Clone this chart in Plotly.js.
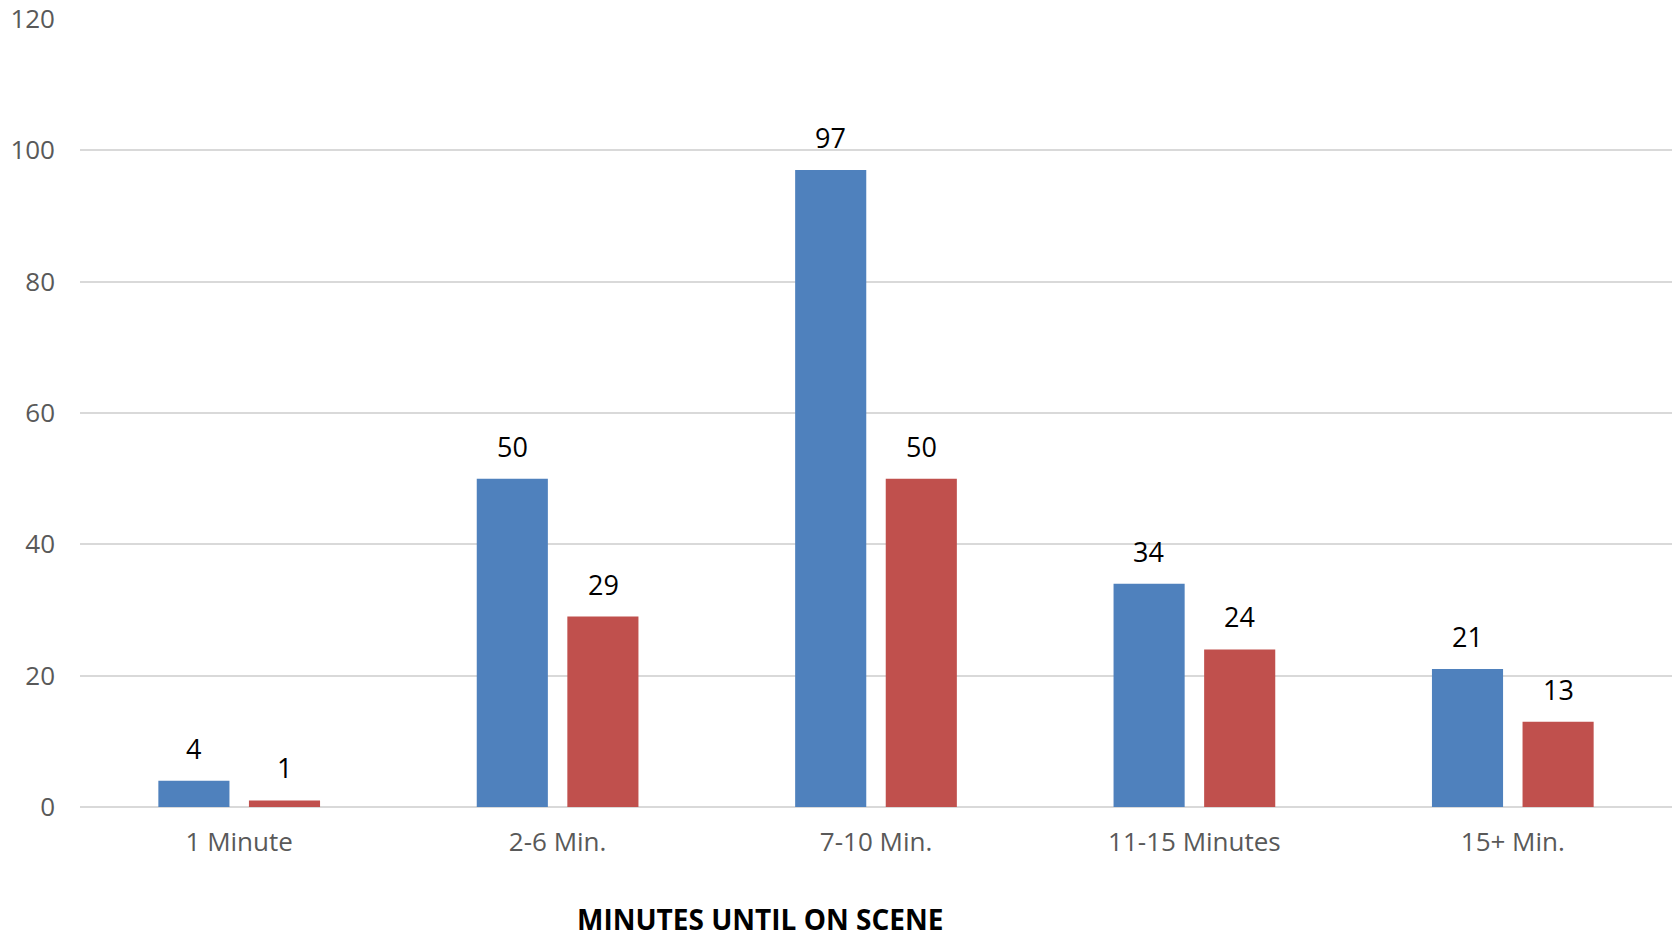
<!DOCTYPE html>
<html>
<head>
<meta charset="utf-8">
<script src="https://cdn.plot.ly/plotly-3.0.1.min.js"></script>
<style>html,body{margin:0;padding:0;background:#fff;}#chart{width:1672px;height:938px;}</style>
</head>
<body>
<div id="chart"></div>
<script>
const categories = ["1 Minute", "2-6 Min.", "7-10 Min.", "11-15 Minutes", "15+ Min."];
const seriesA = [4, 50, 97, 34, 21];
const seriesB = [1, 29, 50, 24, 13];
const yTicks = [0, 20, 40, 60, 80, 100, 120];
const xTitle = "MINUTES UNTIL ON SCENE";

const FONT = "Open Sans, Lato, sans-serif";
const colors = ["#4F81BD", "#C0504D"];
const series = [seriesA, seriesB];

const traces = series.map((vals, i) => ({
  type: "bar",
  x: categories,
  y: vals,
  marker: {color: colors[i]},
  hoverinfo: "x+y"
}));

const annotations = [];
series.forEach((vals, s) => {
  vals.forEach((v, j) => {
    annotations.push({
      x: categories[j], y: v, xref: "x", yref: "y",
      text: String(v), showarrow: false,
      xanchor: "center", yanchor: "bottom",
      xshift: s === 0 ? -45.5 : 45.5, yshift: 12,
      font: {family: FONT, size: 27, color: "#000000"}
    });
  });
});

const L = 80, R = 0, T = 19, B = 131, W = 1672, H = 938;
annotations.push({
  x: (760 - L) / (W - L - R), y: (H - B - 919) / (H - T - B),
  xref: "paper", yref: "paper",
  text: "<b>" + xTitle + "</b>", showarrow: false,
  xanchor: "center", yanchor: "middle",
  font: {family: FONT, size: 28, color: "#000000"}
});

const layout = {
  width: W, height: H,
  margin: {l: L, r: R, t: T, b: B, pad: 0},
  paper_bgcolor: "#ffffff", plot_bgcolor: "#ffffff",
  showlegend: false,
  barmode: "group",
  bargap: 0.431,
  bargroupgap: 0.215,
  font: {family: FONT, size: 26, color: "#595959"},
  xaxis: {
    type: "category",
    showgrid: false, zeroline: false, showline: false,
    ticks: "", tickfont: {family: FONT, size: 26, color: "#595959"},
    ticklabelstandoff: 17
  },
  yaxis: {
    range: [0, 120],
    tickvals: yTicks,
    ticktext: yTicks.map(String),
    showgrid: true, gridcolor: "#D9D9D9", gridwidth: 2,
    zeroline: true, zerolinecolor: "#D9D9D9", zerolinewidth: 2,
    showline: false, ticks: "",
    tickfont: {family: FONT, size: 26, color: "#595959"},
    ticklabelstandoff: 24
  },
  annotations: annotations
};

Plotly.newPlot("chart", traces, layout, {displayModeBar: false, staticPlot: true});
</script>
</body>
</html>
